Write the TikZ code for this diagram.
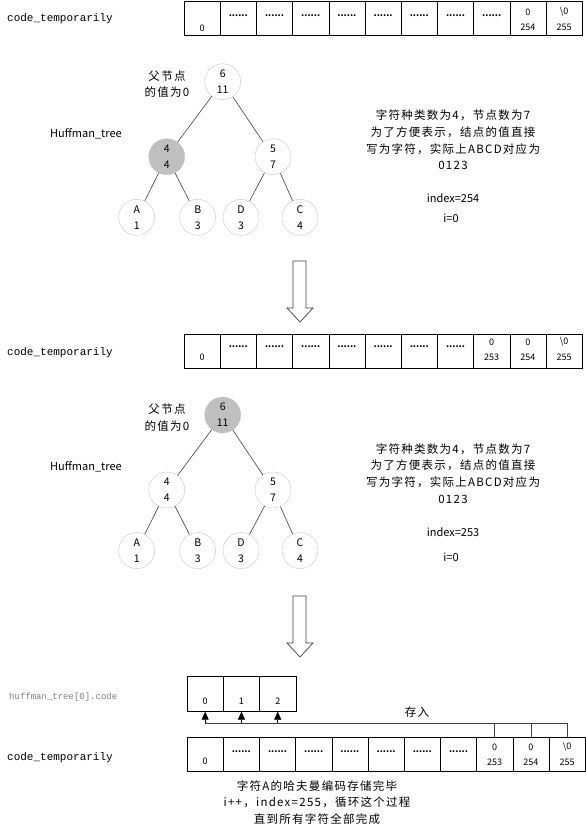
\documentclass[tikz,border=0pt]{standalone}
\usepackage{fontspec}
\setmainfont{Noto Sans CJK SC}
\newfontfamily\cnfont[LetterSpace=11]{Noto Sans CJK SC}
\newfontfamily\codefont{Liberation Mono}
\usetikzlibrary{arrows.meta}
\definecolor{ring}{gray}{0.78}
\definecolor{mark}{gray}{0.75}
\definecolor{wire}{gray}{0.25}
\tikzset{
  cell/.style={draw, minimum width=36.2pt, minimum height=34pt, inner sep=0pt},
  val/.style={inner sep=0pt, font=\fontsize{9}{10}\selectfont},
  knot/.style={circle, draw=ring, fill=white, minimum size=36pt, inner sep=0pt,
    align=center, font=\fontsize{10.5}{16}\selectfont},
  edge/.style={wire, line width=0.6pt},
  note/.style={align=center, inner sep=0pt, font=\cnfont\fontsize{11.5}{16.7}\selectfont},
  tag/.style={inner sep=0pt, anchor=west, font=\fontsize{11}{12}\selectfont},
  codetag/.style={inner sep=0pt, anchor=west, font=\codefont\fontsize{11}{12}\selectfont},
}
\begin{document}
\begin{tikzpicture}[x=1pt, y=-1pt]
\useasboundingbox (0,0) rectangle (586,835);
% first array
\node[codetag] (lab1) at (7,19) {code\_temporarily};
\foreach \i in {1,...,11}
  \node[cell] (t\i) at ({184+36.2*(\i-0.5)},18.5) {};
\node[val, yshift=-9.5pt] at (t1) {0};
\foreach \i in {2,...,9}
  \node[val, yshift=3pt] at (t\i) {\textbf{......}};
\node[val, yshift=6.5pt] at (t10) {0};
\node[val, yshift=-8.5pt] at (t10) {254};
\node[val, yshift=6.5pt] at (t11) {\textbackslash0};
\node[val, yshift=-8.5pt] at (t11) {255};
% the two trees
\foreach \t/\dy/\fr/\fl in {1/0/white/mark, 2/333.3/mark/white}{
  \node[knot, fill=\fr] (r\t) at (222.7,81.7+\dy) {6\\11};
  \node[knot, fill=\fl] (l\t) at (166.7,156.7+\dy) {4\\4};
  \node[knot] (s\t) at (273,156.7+\dy) {5\\7};
  \node[knot] (a\t) at (136.7,217.3+\dy) {A\\1};
  \node[knot] (b\t) at (197.7,217.3+\dy) {B\\3};
  \node[knot] (d\t) at (241,217.3+\dy) {D\\3};
  \node[knot] (c\t) at (300,217.3+\dy) {C\\4};
  \draw[edge] (r\t) -- (l\t);
  \draw[edge] (r\t) -- (s\t);
  \draw[edge] (l\t) -- (a\t);
  \draw[edge] (l\t) -- (b\t);
  \draw[edge] (s\t) -- (d\t);
  \draw[edge] (s\t) -- (c\t);
  \node[note] (p\t) at (167,84+\dy) {父节点\\的值为0};
  \node[tag] (h\t) at (50,134+\dy) {Huffman\_tree};
  \node[note] (info\t) at (453,140+\dy) {字符种类数为4，节点数为7\\为了方便表示，结点的值直接\\写为字符，实际上ABCD对应为\\0123};
}
\node[tag, anchor=center] (idx1) at (453,198) {index=254};
\node[tag, anchor=center] (i1) at (451,218) {i=0};
\node[tag, anchor=center] (idx2) at (453,532) {index=253};
\node[tag, anchor=center] (i2) at (451,557) {i=0};
% big arrows
\foreach \y in {261,596}
  \draw[wire, line width=0.7pt] (293,\y) -- (306,\y) -- (306,\y+47) -- (313,\y+47)
    -- (300,\y+61) -- (287,\y+47) -- (293,\y+47) -- cycle;
% second array
\node[codetag] (lab2) at (7,353) {code\_temporarily};
\foreach \i in {1,...,11}
  \node[cell] (m\i) at ({184+36.2*(\i-0.5)},351) {};
\node[val, yshift=-6pt] at (m1) {0};
\foreach \i in {2,...,8}
  \node[val, yshift=4pt] at (m\i) {\textbf{......}};
\foreach \i/\n in {9/253,10/254}{
  \node[val, yshift=9pt] at (m\i) {0};
  \node[val, yshift=-6pt] at (m\i) {\n};}
\node[val, yshift=9pt] at (m11) {\textbackslash0};
\node[val, yshift=-6pt] at (m11) {255};
% huffman_tree[0].code
\node[codetag, gray, font=\codefont\fontsize{9}{10}\selectfont] (lab3) at (9,697.6) {huffman\_tree[0].code};
\foreach \i in {1,2,3}
  \node[cell, minimum width=36.3pt, minimum height=35.5pt] (k\i) at ({187+36.3*(\i-0.5)},693.7) {};
\foreach \i/\n in {1/0,2/1,3/2}
  \node[val, yshift=-8pt] at (k\i) {\n};
% third array
\node[codetag] (lab4) at (7,758) {code\_temporarily};
\foreach \i in {1,...,11}
  \node[cell] (b\i) at ({187+36.2*(\i-0.5)},754) {};
\node[val, yshift=-7pt] at (b1) {0};
\foreach \i in {2,...,8}
  \node[val, yshift=2pt] at (b\i) {\textbf{......}};
\foreach \i/\n in {9/253,10/254}{
  \node[val, yshift=7pt] at (b\i) {0};
  \node[val, yshift=-8pt] at (b\i) {\n};}
\node[val, yshift=7pt] at (b11) {\textbackslash0};
\node[val, yshift=-8pt] at (b11) {255};
% copy into code
\coordinate (bus) at (0,723);
\draw[edge] (b11.north) |- (bus -| k1);
\draw[edge] (b9.north) -- (bus -| b9);
\draw[edge] (b10.north) -- (bus -| b10);
\foreach \i in {1,2,3}
  \draw[edge, black, -{Triangle[width=7pt,length=8pt]}] (bus -| k\i) -- (k\i.south);
\node[note] (save) at (417,712) {存入};
\node[note] (done) at (317,802.5) {字符A的哈夫曼编码存储完毕\\i++，index=255，循环这个过程\\直到所有字符全部完成};
\end{tikzpicture}
\end{document}
